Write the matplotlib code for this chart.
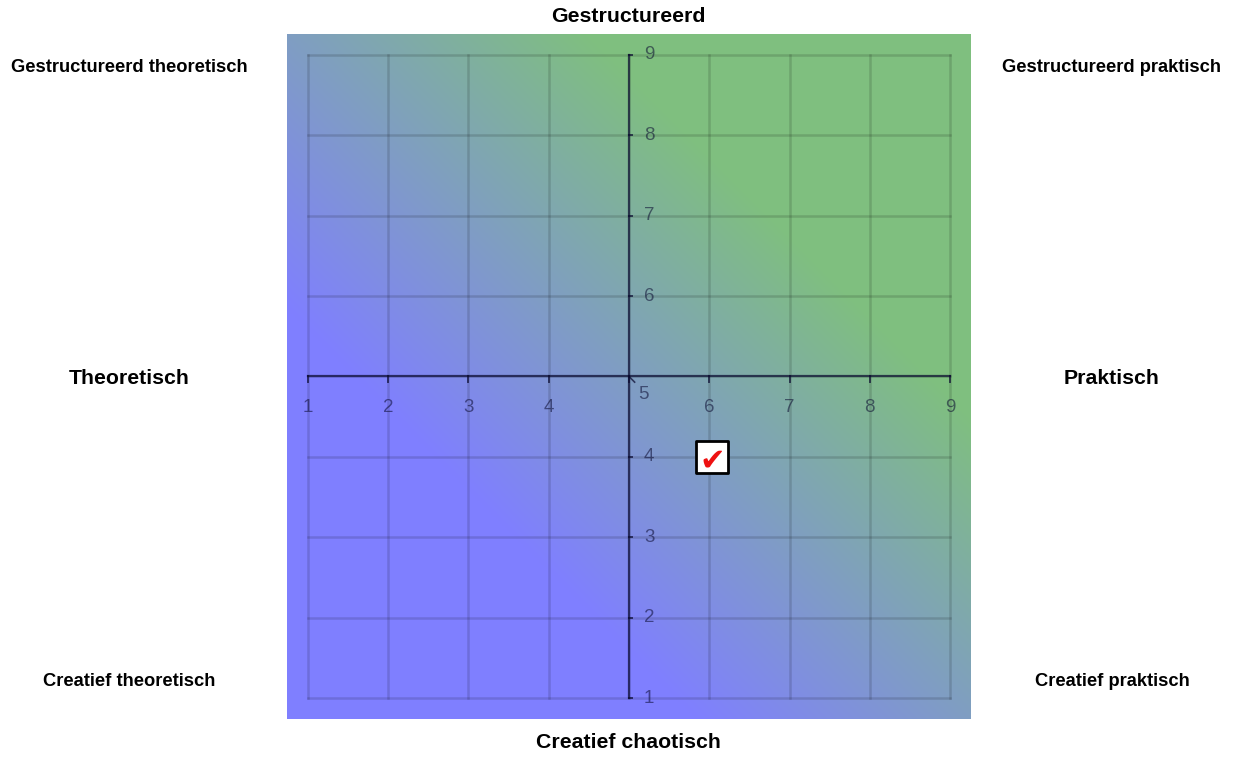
import numpy as np
import matplotlib.pyplot as plt

plt.rcParams['font.family'] = ['Liberation Sans', 'DejaVu Sans']

# data
ticks = [1, 2, 3, 4, 5, 6, 7, 8, 9]
point_x = [6]
point_y = [4]
top_label = "Gestructureerd"
bottom_label = "Creatief chaotisch"
left_label = "Theoretisch"
right_label = "Praktisch"
corner_labels = ["Gestructureerd theoretisch", "Gestructureerd praktisch",
                 "Creatief theoretisch", "Creatief praktisch"]

fig = plt.figure(figsize=(12.34, 7.58), dpi=100)
ax = fig.add_axes([287 / 1234, 39 / 758, 684 / 1234, 685 / 758])
lo, hi = 0.74, 9.26
ax.set_xlim(lo, hi)
ax.set_ylim(lo, hi)
ax.axis('off')

# diagonal blue -> green background
n = 300
gx, gy = np.meshgrid(np.linspace(0, 1, n), np.linspace(0, 1, n))
t = np.clip(((gx + gy) / 2 - 0.3) / 0.42, 0, 1)[..., None]
blue = np.array([0.50, 0.50, 1.00])
green = np.array([0.50, 0.75, 0.50])
img = blue * (1 - t) + green * t
ax.imshow(img, extent=(lo, hi, lo, hi), origin='lower', aspect='auto', zorder=0)

# grid
for v in ticks:
    ax.plot([v, v], [1, 9], color='black', alpha=0.14, lw=1.8, zorder=1)
    ax.plot([1, 9], [v, v], color='black', alpha=0.14, lw=1.8, zorder=1)

# central axes
ac = 0.7
axc = '#0a0a30'
ax.plot([1, 9], [5, 5], color=axc, alpha=ac, lw=1.6, zorder=2)
ax.plot([5, 5], [1, 9], color=axc, alpha=ac, lw=1.6, zorder=2)
for v in ticks:
    ax.plot([v, v], [5, 5 - 0.07], color=axc, alpha=ac, lw=1.4, zorder=2)
    if v != 5:
        ax.plot([5, 5 + 0.04], [v, v], color=axc, alpha=ac, lw=1.4, zorder=2)
        ax.text(v, 4.62, str(v), ha='center', va='center', fontsize=13.5,
                color=axc, alpha=0.55, zorder=3)
        ax.text(5.25, v, str(v), ha='center', va='center', fontsize=13.5,
                color=axc, alpha=0.55, zorder=3)
ax.plot([5, 5.07], [5, 4.93], color=axc, alpha=ac, lw=1.2, zorder=2)
ax.text(5.18, 4.77, "5", ha='center', va='center', fontsize=13.5,
        color=axc, alpha=0.55, zorder=3)

# marker
ax.scatter([x + 0.04 for x in point_x], point_y, marker='s', s=560,
           facecolor='white', edgecolor='black', linewidths=2, zorder=4)
for x, y in zip(point_x, point_y):
    ax.text(x + 0.04, y - 0.05, "\u2714", ha='center', va='center', fontsize=22,
            color='#ee1111', family=['DejaVu Sans'], zorder=5)

# outer labels
fig.text(628 / 1234, 1 - 16 / 758, top_label, ha='center', va='center',
         fontsize=15.3, fontweight='bold')
fig.text(628 / 1234, 1 - 743 / 758, bottom_label, ha='center', va='center',
         fontsize=15.3, fontweight='bold')
fig.text(129 / 1234, 1 - 378 / 758, left_label, ha='center', va='center',
         fontsize=15.3, fontweight='bold')
fig.text(1112 / 1234, 1 - 378 / 758, right_label, ha='center', va='center',
         fontsize=15.3, fontweight='bold')
pos = [(129, 67), (1112, 67), (129, 681), (1112, 681)]
for lab, (px, py) in zip(corner_labels, pos):
    fig.text(px / 1234, 1 - py / 758, lab, ha='center', va='center',
             fontsize=13.2, fontweight='bold')

fig.savefig("out.png", dpi=100)
